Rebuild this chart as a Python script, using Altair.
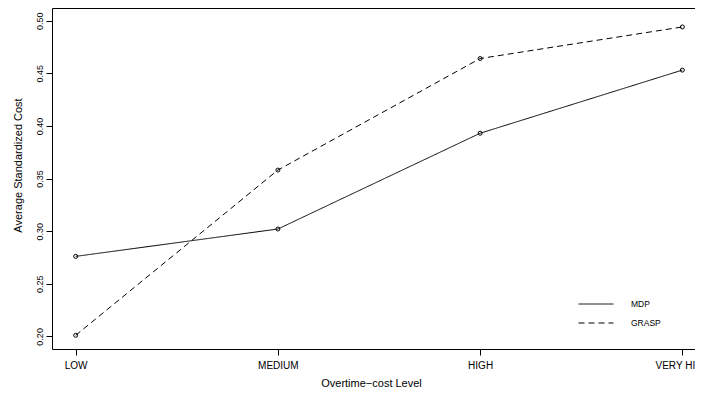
import altair as alt
import pandas as pd

levels = ["LOW", "MEDIUM", "HIGH", "VERY HIGH"]
methods = ["MDP", "GRASP"]
mdp = [0.276, 0.302, 0.393, 0.453]
grasp = [0.201, 0.358, 0.464, 0.494]
y_ticks = [0.20, 0.25, 0.30, 0.35, 0.40, 0.45, 0.50]

rows = []
for m, vals in zip(methods, [mdp, grasp]):
    for lv, v in zip(levels, vals):
        rows.append({"level": lv, "method": m, "value": v})
df = pd.DataFrame(rows)

FONT = "Liberation Sans"

x_enc = alt.X(
    "level:O",
    sort=levels,
    scale=alt.Scale(type="point", padding=0.117),
    axis=alt.Axis(
        title="Overtime\u2212cost Level",
        labelAngle=0,
        labelFontSize=10,
        labelPadding=5,
        labelBaseline="top",
        tickSize=6,
        titleFontSize=11,
        titleFontWeight="normal",
        titleBaseline="alphabetic",
        titleX=319,
        titleY=37,
    ),
)
y_enc = alt.Y(
    "value:Q",
    scale=alt.Scale(domain=[0.188, 0.512], nice=False, zero=False),
    axis=alt.Axis(
        title="Average Standardized Cost",
        values=y_ticks,
        format=".2f",
        labelAngle=270,
        labelAlign="center",
        labelBaseline="alphabetic",
        labelFontSize=9,
        labelPadding=4,
        tickSize=6,
        titleFontSize=11,
        titleFontWeight="normal",
        titleAngle=270,
        titleAlign="center",
        titleBaseline="alphabetic",
        titleX=-31,
        titleY=157,
    ),
)

lines = alt.Chart(df).mark_line(color="black", strokeWidth=1).encode(
    x=x_enc,
    y=y_enc,
    strokeDash=alt.StrokeDash(
        "method:N",
        sort=methods,
        scale=alt.Scale(domain=methods, range=[[1, 0], [6, 4]]),
        legend=alt.Legend(
            title=None,
            orient="none",
            legendX=526,
            legendY=290,
            symbolType="stroke",
            symbolSize=1225,
            symbolStrokeWidth=1,
            symbolStrokeColor="black",
            clipHeight=12,
            rowPadding=7,
            labelOffset=17,
            labelFontSize=8.5,
            padding=0,
        ),
    ),
)

points = alt.Chart(df).mark_point(
    shape="circle", filled=False, color="black", size=16, strokeWidth=1, opacity=1
).encode(x=x_enc, y=y_enc, detail="method:N")

chart = (
    alt.layer(lines, points)
    .properties(
        width=654,
        height=341,
        autosize=alt.AutoSizeParams(type="none"),
        padding={"left": 44, "top": 0, "right": -11, "bottom": 45},
    )
    .configure(font=FONT, background="white")
    .configure_view(stroke="black", strokeWidth=1)
    .configure_axis(
        grid=False,
        domain=False,
        tickColor="black",
        labelColor="black",
        titleColor="black",
        labelFont=FONT,
        titleFont=FONT,
    )
    .configure_legend(labelFont=FONT, labelColor="black")
)

chart.save("out.html", embed_options={"renderer": "svg", "actions": False})
